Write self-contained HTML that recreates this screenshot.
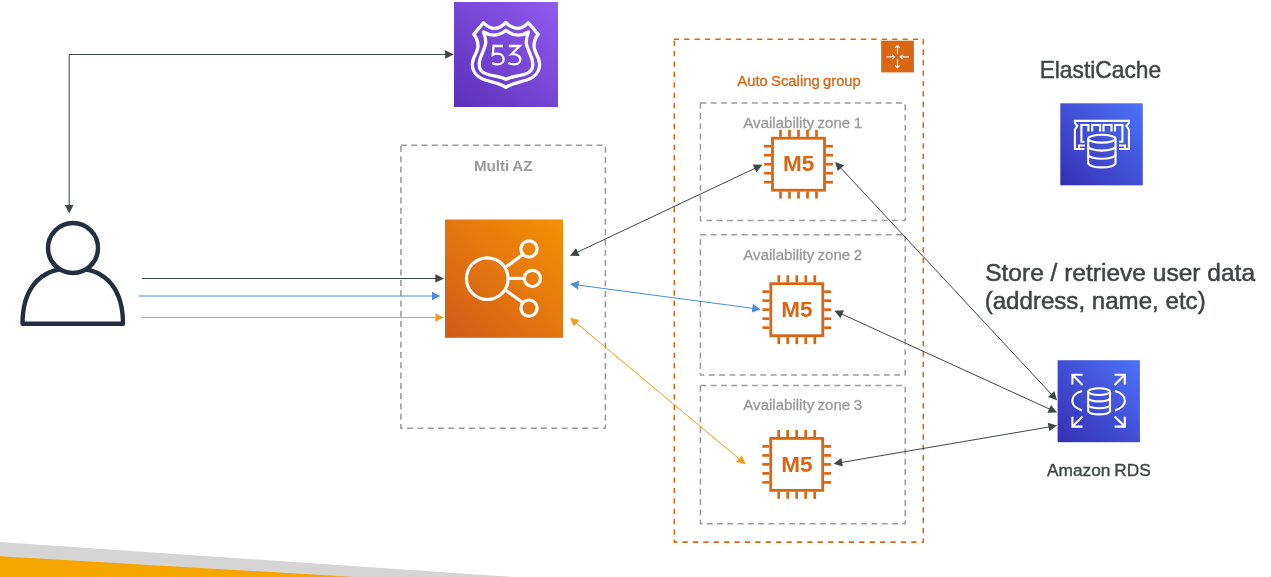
<!DOCTYPE html>
<html><head><meta charset="utf-8"><style>
html,body{margin:0;padding:0;background:#fff;width:1271px;height:577px;overflow:hidden;}
svg{display:block;font-family:"Liberation Sans",sans-serif;will-change:transform;}
</style></head><body><svg width="1271" height="577" viewBox="0 0 1271 577"><defs><linearGradient id="gO" x1="0" y1="1" x2="1" y2="0"><stop offset="0" stop-color="#d15a18"/><stop offset="1" stop-color="#f59105"/></linearGradient><linearGradient id="gP" x1="0" y1="1" x2="1" y2="0"><stop offset="0" stop-color="#5b31b9"/><stop offset="1" stop-color="#905cf1"/></linearGradient><linearGradient id="gB" x1="0" y1="1" x2="1" y2="0"><stop offset="0" stop-color="#362eb3"/><stop offset="1" stop-color="#4c73f7"/></linearGradient></defs><polygon points="0,542 513.4,577 0,577" fill="#d5d5d5"/><polygon points="0,556.2 355,577 0,577" fill="#f7a600"/><polyline points="69.2,205.5 69.2,54.5 446,54.5" fill="none" stroke="#3f4646" stroke-width="1.0"/><polygon points="453.80,54.50 445.20,58.80 445.20,50.20" fill="#3f4646"/><polygon points="69.20,213.50 64.90,204.90 73.50,204.90" fill="#3f4646"/><g transform="translate(454,2)"><rect width="104" height="105" fill="url(#gP)"/><g fill="none" stroke="#fff" stroke-width="3.3" stroke-linejoin="round"><path d="M29.5,20.8 Q40.7,32 51.9,20.5 Q63.1,32 74.3,20.8 L84.2,32.4 C82,35 80,39 80,44 C80,50 85.6,55 85.6,62.4 C85.6,70 80,76 71,78.5 C62,81 56,82 51.9,85.5 C48,82 42,81 33,78.5 C24,76 18.4,70 18.4,62.4 C18.4,55 24,50 24,44 C24,39 22,35 19.8,32.4 Z"/><path d="M29.5,30 Q40.7,37 51.9,28.5 Q63.1,37 74.5,30 C73,34 72,38 72.3,41 C73,48 78.8,54 78.8,62.8 C78.8,68 76,71 70,72.5 C62,74.5 56,75 51.9,77.3 C48,75 42,74.5 34,72.5 C28,71 25.2,68 25.2,62.8 C25.2,54 31,48 31.7,41 C32,38 31,34 29.5,30 Z"/></g><g fill="none" stroke="#fff" stroke-width="2.3" stroke-linejoin="miter"><path d="M48.9,44 L39.6,44 L38.8,52.7 C40,51.9 41.5,51.6 43.3,51.6 C47.2,51.6 49.6,54.2 49.6,57.2 C49.6,60.3 47,62.4 43.3,62.4 C41.3,62.4 39.8,61.9 38.2,61"/><path d="M54.8,44 L65.6,44 L57.5,52.2 C63,51.7 66.3,54.3 66.3,57.4 C66.3,60.4 63.5,62.4 60,62.4 C57.9,62.4 56,61.9 54.4,61"/></g></g><g fill="none" stroke="#232f3e" stroke-width="4.4"><path d="M22.5,323.7 C22.5,292.5 36.6,268 72.75,268 C108.9,268 123,292.5 123,323.7 Z" stroke-linejoin="round"/><circle cx="73" cy="248" r="25" fill="#fff"/></g><line x1="142.00" y1="278.50" x2="437.12" y2="278.50" stroke="#3f4646" stroke-width="1.0"/><polygon points="444.00,278.50 435.40,282.80 435.40,274.20" fill="#3f4646"/><line x1="139.00" y1="296.00" x2="433.72" y2="296.00" stroke="#4a8fd8" stroke-width="1.0"/><polygon points="440.60,296.00 432.00,300.30 432.00,291.70" fill="#4a8fd8"/><line x1="142.00" y1="317.50" x2="437.12" y2="317.50" stroke="#f59c1a" stroke-width="1.0"/><polygon points="444.00,317.50 435.40,321.80 435.40,313.20" fill="#f59c1a"/><rect x="400.9" y="145.2" width="204.5" height="283" fill="none" stroke="#9c9c9c" stroke-width="1.6" stroke-dasharray="6 4.3" stroke-linejoin="round"/><text x="473.91" y="171.1" font-family="Liberation Sans" font-weight="bold" font-size="15.26" textLength="58.51" lengthAdjust="spacingAndGlyphs" fill="#9c9c9c" word-spacing="-0.8">Multi AZ</text><g transform="translate(445,219.5)"><rect width="118" height="118.3" fill="url(#gO)"/><g fill="none" stroke="#fff" stroke-width="3.2"><circle cx="42.3" cy="59.2" r="20.8"/><circle cx="84" cy="29.4" r="8.1"/><circle cx="87.4" cy="58.9" r="8.1"/><circle cx="84" cy="88.6" r="8.1"/><line x1="60.8" y1="47.6" x2="78" y2="35"/><line x1="63.5" y1="58.9" x2="79.2" y2="58.9"/><line x1="60.8" y1="70.8" x2="78" y2="83.2"/></g></g><rect x="674.3" y="39.2" width="249" height="502.9" fill="none" stroke="#d86613" stroke-width="1.55" stroke-dasharray="4.2 6.2" stroke-linecap="round" stroke-linejoin="round"/><g transform="translate(881.2,40.7)"><rect width="32.7" height="31.7" fill="#d86613"/><g fill="none" stroke="#fff" stroke-width="1.1" stroke-linejoin="miter"><line x1="16.3" y1="13.2" x2="16.3" y2="4.8"/><polyline points="14,7.2 16.3,4.8 18.6,7.2"/><line x1="16.3" y1="18.6" x2="16.3" y2="27"/><polyline points="14,24.6 16.3,27 18.6,24.6"/><line x1="5" y1="16.2" x2="13.4" y2="16.2"/><polyline points="11,13.9 13.4,16.2 11,18.5"/><line x1="27.7" y1="16.2" x2="19.2" y2="16.2"/><polyline points="21.6,13.9 19.2,16.2 21.6,18.5"/></g></g><text x="737.33" y="85.55" font-family="Liberation Sans" font-size="14" textLength="123.48" lengthAdjust="spacingAndGlyphs" fill="#d86613" stroke="#d86613" stroke-width="0.3" word-spacing="-0.7">Auto Scaling group</text><rect x="700.4" y="103.1" width="204.8" height="117.3" fill="none" stroke="#9c9c9c" stroke-width="1.5" stroke-dasharray="5.9 4.4" stroke-linejoin="round"/><text x="743.36" y="128.25" font-family="Liberation Sans" font-size="14" textLength="118.67" lengthAdjust="spacingAndGlyphs" fill="#9a9a9a" stroke="#9a9a9a" stroke-width="0.3" word-spacing="-0.7">Availability zone 1</text><rect x="700.4" y="234.7" width="204.8" height="140.3" fill="none" stroke="#9c9c9c" stroke-width="1.5" stroke-dasharray="5.9 4.4" stroke-linejoin="round"/><text x="743.36" y="259.65" font-family="Liberation Sans" font-size="14" textLength="118.67" lengthAdjust="spacingAndGlyphs" fill="#9a9a9a" stroke="#9a9a9a" stroke-width="0.3" word-spacing="-0.7">Availability zone 2</text><rect x="700.4" y="385.5" width="204.8" height="138.2" fill="none" stroke="#9c9c9c" stroke-width="1.5" stroke-dasharray="5.9 4.4" stroke-linejoin="round"/><text x="743.36" y="409.75" font-family="Liberation Sans" font-size="14" textLength="118.67" lengthAdjust="spacingAndGlyphs" fill="#9a9a9a" stroke="#9a9a9a" stroke-width="0.3" word-spacing="-0.7">Availability zone 3</text><rect x="772.50" y="138.20" width="52.00" height="52.00" fill="none" stroke="#d86613" stroke-width="2.8"/><line x1="780.50" y1="129.80" x2="780.50" y2="136.80" stroke="#d86613" stroke-width="2.7"/><line x1="780.50" y1="191.60" x2="780.50" y2="198.60" stroke="#d86613" stroke-width="2.7"/><line x1="764.10" y1="146.20" x2="771.10" y2="146.20" stroke="#d86613" stroke-width="2.7"/><line x1="825.90" y1="146.20" x2="832.90" y2="146.20" stroke="#d86613" stroke-width="2.7"/><line x1="789.50" y1="129.80" x2="789.50" y2="136.80" stroke="#d86613" stroke-width="2.7"/><line x1="789.50" y1="191.60" x2="789.50" y2="198.60" stroke="#d86613" stroke-width="2.7"/><line x1="764.10" y1="155.20" x2="771.10" y2="155.20" stroke="#d86613" stroke-width="2.7"/><line x1="825.90" y1="155.20" x2="832.90" y2="155.20" stroke="#d86613" stroke-width="2.7"/><line x1="798.50" y1="129.80" x2="798.50" y2="136.80" stroke="#d86613" stroke-width="2.7"/><line x1="798.50" y1="191.60" x2="798.50" y2="198.60" stroke="#d86613" stroke-width="2.7"/><line x1="764.10" y1="164.20" x2="771.10" y2="164.20" stroke="#d86613" stroke-width="2.7"/><line x1="825.90" y1="164.20" x2="832.90" y2="164.20" stroke="#d86613" stroke-width="2.7"/><line x1="807.50" y1="129.80" x2="807.50" y2="136.80" stroke="#d86613" stroke-width="2.7"/><line x1="807.50" y1="191.60" x2="807.50" y2="198.60" stroke="#d86613" stroke-width="2.7"/><line x1="764.10" y1="173.20" x2="771.10" y2="173.20" stroke="#d86613" stroke-width="2.7"/><line x1="825.90" y1="173.20" x2="832.90" y2="173.20" stroke="#d86613" stroke-width="2.7"/><line x1="816.50" y1="129.80" x2="816.50" y2="136.80" stroke="#d86613" stroke-width="2.7"/><line x1="816.50" y1="191.60" x2="816.50" y2="198.60" stroke="#d86613" stroke-width="2.7"/><line x1="764.10" y1="182.20" x2="771.10" y2="182.20" stroke="#d86613" stroke-width="2.7"/><line x1="825.90" y1="182.20" x2="832.90" y2="182.20" stroke="#d86613" stroke-width="2.7"/><text x="783.01" y="171.40" font-family="Liberation Sans" font-weight="bold" font-size="21.5" textLength="31.3" lengthAdjust="spacingAndGlyphs" fill="#d86613">M5</text><rect x="770.80" y="283.70" width="52.00" height="52.00" fill="none" stroke="#d86613" stroke-width="2.8"/><line x1="778.80" y1="275.30" x2="778.80" y2="282.30" stroke="#d86613" stroke-width="2.7"/><line x1="778.80" y1="337.10" x2="778.80" y2="344.10" stroke="#d86613" stroke-width="2.7"/><line x1="762.40" y1="291.70" x2="769.40" y2="291.70" stroke="#d86613" stroke-width="2.7"/><line x1="824.20" y1="291.70" x2="831.20" y2="291.70" stroke="#d86613" stroke-width="2.7"/><line x1="787.80" y1="275.30" x2="787.80" y2="282.30" stroke="#d86613" stroke-width="2.7"/><line x1="787.80" y1="337.10" x2="787.80" y2="344.10" stroke="#d86613" stroke-width="2.7"/><line x1="762.40" y1="300.70" x2="769.40" y2="300.70" stroke="#d86613" stroke-width="2.7"/><line x1="824.20" y1="300.70" x2="831.20" y2="300.70" stroke="#d86613" stroke-width="2.7"/><line x1="796.80" y1="275.30" x2="796.80" y2="282.30" stroke="#d86613" stroke-width="2.7"/><line x1="796.80" y1="337.10" x2="796.80" y2="344.10" stroke="#d86613" stroke-width="2.7"/><line x1="762.40" y1="309.70" x2="769.40" y2="309.70" stroke="#d86613" stroke-width="2.7"/><line x1="824.20" y1="309.70" x2="831.20" y2="309.70" stroke="#d86613" stroke-width="2.7"/><line x1="805.80" y1="275.30" x2="805.80" y2="282.30" stroke="#d86613" stroke-width="2.7"/><line x1="805.80" y1="337.10" x2="805.80" y2="344.10" stroke="#d86613" stroke-width="2.7"/><line x1="762.40" y1="318.70" x2="769.40" y2="318.70" stroke="#d86613" stroke-width="2.7"/><line x1="824.20" y1="318.70" x2="831.20" y2="318.70" stroke="#d86613" stroke-width="2.7"/><line x1="814.80" y1="275.30" x2="814.80" y2="282.30" stroke="#d86613" stroke-width="2.7"/><line x1="814.80" y1="337.10" x2="814.80" y2="344.10" stroke="#d86613" stroke-width="2.7"/><line x1="762.40" y1="327.70" x2="769.40" y2="327.70" stroke="#d86613" stroke-width="2.7"/><line x1="824.20" y1="327.70" x2="831.20" y2="327.70" stroke="#d86613" stroke-width="2.7"/><text x="781.31" y="316.90" font-family="Liberation Sans" font-weight="bold" font-size="21.5" textLength="31.3" lengthAdjust="spacingAndGlyphs" fill="#d86613">M5</text><rect x="770.70" y="438.40" width="52.00" height="52.00" fill="none" stroke="#d86613" stroke-width="2.8"/><line x1="778.70" y1="430.00" x2="778.70" y2="437.00" stroke="#d86613" stroke-width="2.7"/><line x1="778.70" y1="491.80" x2="778.70" y2="498.80" stroke="#d86613" stroke-width="2.7"/><line x1="762.30" y1="446.40" x2="769.30" y2="446.40" stroke="#d86613" stroke-width="2.7"/><line x1="824.10" y1="446.40" x2="831.10" y2="446.40" stroke="#d86613" stroke-width="2.7"/><line x1="787.70" y1="430.00" x2="787.70" y2="437.00" stroke="#d86613" stroke-width="2.7"/><line x1="787.70" y1="491.80" x2="787.70" y2="498.80" stroke="#d86613" stroke-width="2.7"/><line x1="762.30" y1="455.40" x2="769.30" y2="455.40" stroke="#d86613" stroke-width="2.7"/><line x1="824.10" y1="455.40" x2="831.10" y2="455.40" stroke="#d86613" stroke-width="2.7"/><line x1="796.70" y1="430.00" x2="796.70" y2="437.00" stroke="#d86613" stroke-width="2.7"/><line x1="796.70" y1="491.80" x2="796.70" y2="498.80" stroke="#d86613" stroke-width="2.7"/><line x1="762.30" y1="464.40" x2="769.30" y2="464.40" stroke="#d86613" stroke-width="2.7"/><line x1="824.10" y1="464.40" x2="831.10" y2="464.40" stroke="#d86613" stroke-width="2.7"/><line x1="805.70" y1="430.00" x2="805.70" y2="437.00" stroke="#d86613" stroke-width="2.7"/><line x1="805.70" y1="491.80" x2="805.70" y2="498.80" stroke="#d86613" stroke-width="2.7"/><line x1="762.30" y1="473.40" x2="769.30" y2="473.40" stroke="#d86613" stroke-width="2.7"/><line x1="824.10" y1="473.40" x2="831.10" y2="473.40" stroke="#d86613" stroke-width="2.7"/><line x1="814.70" y1="430.00" x2="814.70" y2="437.00" stroke="#d86613" stroke-width="2.7"/><line x1="814.70" y1="491.80" x2="814.70" y2="498.80" stroke="#d86613" stroke-width="2.7"/><line x1="762.30" y1="482.40" x2="769.30" y2="482.40" stroke="#d86613" stroke-width="2.7"/><line x1="824.10" y1="482.40" x2="831.10" y2="482.40" stroke="#d86613" stroke-width="2.7"/><text x="781.21" y="471.60" font-family="Liberation Sans" font-weight="bold" font-size="21.5" textLength="31.3" lengthAdjust="spacingAndGlyphs" fill="#d86613">M5</text><line x1="576.22" y1="252.76" x2="756.18" y2="167.74" stroke="#3f4646" stroke-width="1.0"/><polygon points="570.00,255.70 575.94,248.14 579.61,255.91" fill="#3f4646"/><polygon points="762.40,164.80 756.46,172.36 752.79,164.59" fill="#3f4646"/><line x1="576.82" y1="284.91" x2="754.08" y2="308.49" stroke="#4a8fd8" stroke-width="1.0"/><polygon points="570.00,284.00 579.09,280.87 577.96,289.40" fill="#4a8fd8"/><polygon points="760.90,309.40 751.81,312.53 752.94,304.00" fill="#4a8fd8"/><line x1="575.28" y1="322.11" x2="740.42" y2="459.89" stroke="#f59c1a" stroke-width="1.0"/><polygon points="570.00,317.70 579.36,319.91 573.85,326.51" fill="#f59c1a"/><polygon points="745.70,464.30 736.34,462.09 741.85,455.49" fill="#f59c1a"/><line x1="839.79" y1="166.94" x2="1052.31" y2="395.26" stroke="#3f4646" stroke-width="1.0"/><polygon points="835.10,161.90 844.11,165.27 837.81,171.12" fill="#3f4646"/><polygon points="1057.00,400.30 1047.99,396.93 1054.29,391.08" fill="#3f4646"/><line x1="840.66" y1="313.56" x2="1050.74" y2="409.64" stroke="#3f4646" stroke-width="1.0"/><polygon points="834.40,310.70 844.01,310.37 840.43,318.19" fill="#3f4646"/><polygon points="1057.00,412.50 1047.39,412.83 1050.97,405.01" fill="#3f4646"/><line x1="840.38" y1="462.64" x2="1050.22" y2="426.76" stroke="#3f4646" stroke-width="1.0"/><polygon points="833.60,463.80 841.35,458.11 842.80,466.59" fill="#3f4646"/><polygon points="1057.00,425.60 1049.25,431.29 1047.80,422.81" fill="#3f4646"/><text x="1039.63" y="77.55" font-family="Liberation Sans" font-size="24" textLength="121.52" lengthAdjust="spacingAndGlyphs" fill="#3f4444" stroke="#3f4444" stroke-width="0.45">ElastiCache</text><g transform="translate(1060.3,103.3)"><rect width="82.5" height="82" fill="url(#gB)"/><g transform="translate(-0.3,-0.3)" fill="none" stroke="#fff" stroke-width="2.1"><path d="M24.5,46 L14.9,46 L14.9,26.6 L17.3,23.1 L14.9,20 L14.9,17.9 L68.9,17.9 L68.9,20 L66.5,23.1 L68.9,26.6 L68.9,46 L59,46"/><path d="M25,42.5 L19,42.5 L19,46"/><path d="M59,42.5 L65,42.5 L65,46"/><path d="M24.6,38.7 L21.4,38.7 L21.4,22 L28.4,22 L28.4,28.6 M32.2,28.6 L32.2,22 L40.1,22 L40.1,28.6 M43.5,28.6 L43.5,22 L51.5,22 L51.5,28.6 M55,28.6 L55,22 L62.4,22 L62.4,38.7 L59.2,38.7"/><ellipse cx="41.85" cy="35.7" rx="13.65" ry="3.9" fill="url(#gB)"/><path d="M28.2,35.7 L28.2,60.1 A13.65,4.3 0 0 0 55.5,60.1 L55.5,35.7"/><path d="M28.2,43.3 A13.65,4.3 0 0 0 55.5,43.3 M28.2,51.5 A13.65,4.3 0 0 0 55.5,51.5"/></g></g><text x="985.17" y="280.67" font-family="Liberation Sans" font-size="24.6" textLength="269.88" lengthAdjust="spacingAndGlyphs" fill="#3f4444" stroke="#3f4444" stroke-width="0.5">Store / retrieve user data</text><text x="984.65" y="308.97" font-family="Liberation Sans" font-size="24.6" textLength="221.03" lengthAdjust="spacingAndGlyphs" fill="#3f4444" stroke="#3f4444" stroke-width="0.5">(address, name, etc)</text><g transform="translate(1057.6,360.2)"><rect width="82.3" height="82" fill="url(#gB)"/><g transform="translate(-0.6,-0.2)" fill="none" stroke="#fff" stroke-width="2.1" stroke-linecap="butt"><path d="M25.6,14.7 L15.4,14.7 L15.4,24.5 M15.4,14.7 L25.6,24.9"/><path d="M57.6,14.7 L67.8,14.7 L67.8,24.5 M67.8,14.7 L57.6,24.9"/><path d="M25.6,66.6 L15.4,66.6 L15.4,56.8 M15.4,66.6 L25.6,56.4"/><path d="M57.6,66.6 L67.8,66.6 L67.8,56.8 M67.8,66.6 L57.6,56.4"/><ellipse cx="42.1" cy="31.6" rx="10.9" ry="3.4"/><path d="M31.2,31.6 L31.2,51 A10.9,3.4 0 0 0 53,51 L53,31.6"/><path d="M31.2,38 A10.9,3.4 0 0 0 53,38 M31.2,44.9 A10.9,3.4 0 0 0 53,44.9"/><path d="M25,31 C18,33 15.3,37 15.3,41 C15.3,45 18,48 25,50.5"/><path d="M58,31 C65,33 67.9,37 67.9,41 C67.9,45 65,48 58,50.5"/></g></g><text x="1047.05" y="476.45" font-family="Liberation Sans" font-size="16.56" textLength="103.82" lengthAdjust="spacingAndGlyphs" fill="#3f4444" stroke="#3f4444" stroke-width="0.35" word-spacing="-0.9">Amazon RDS</text></svg></body></html>
